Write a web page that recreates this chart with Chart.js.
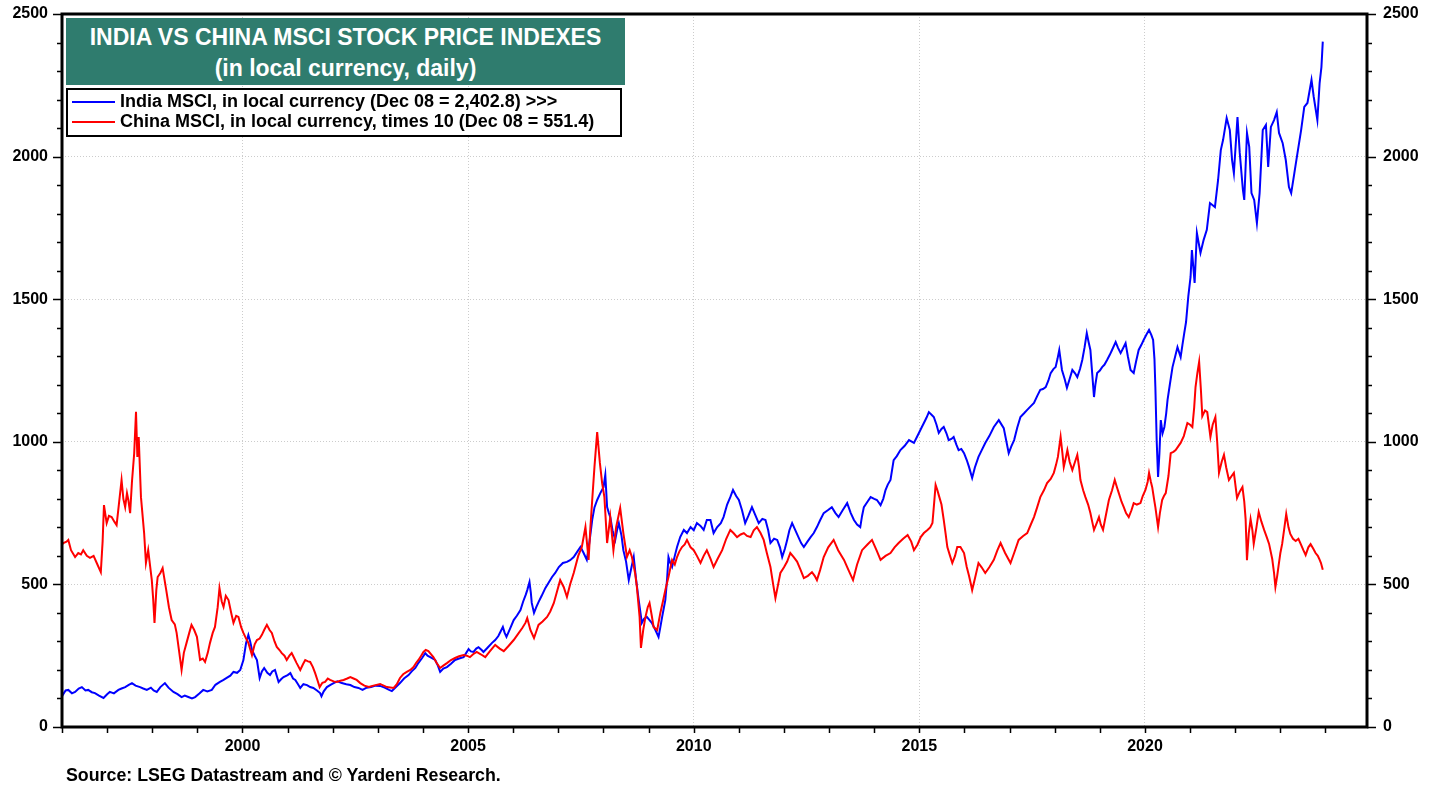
<!DOCTYPE html>
<html>
<head>
<meta charset="utf-8">
<script src="https://cdn.jsdelivr.net/npm/chart.js@4/dist/chart.umd.min.js"></script>
<style>
  body { margin: 0; background: #fff; font-family: Arial, "Liberation Sans", sans-serif; }
  #wrap { position: relative; width: 1446px; height: 790px; overflow: hidden; }
  #c { position: absolute; left: 0; top: 0; }
  .titlebox { position: absolute; left: 66px; top: 18px; width: 559px; height: 67px; background: #2f7c6e; color: #fff; font-weight: bold; font-size: 23px; text-align: center; }
  .titlebox div { position: absolute; left: 0; right: 0; }
  .legend { position: absolute; left: 66px; top: 88px; width: 552px; height: 45px; border: 2px solid #000; background: #fff; font-weight: bold; font-size: 18px; }
  .legend .row { position: absolute; left: 4px; height: 20px; line-height: 20px; white-space: nowrap; }
  .legend .swatch { display: inline-block; width: 43px; height: 2px; vertical-align: middle; margin-right: 5px; }
  .source { position: absolute; left: 66px; top: 765px; font-weight: bold; font-size: 17.8px; white-space: nowrap; }
</style>
</head>
<body>
<div id="wrap">
  <canvas id="c" width="1446" height="790"></canvas>
  <div class="titlebox">
    <div style="top:6px">INDIA VS CHINA MSCI STOCK PRICE INDEXES</div>
    <div style="top:37px">(in local currency, daily)</div>
  </div>
  <div class="legend">
    <div class="row" style="top:1px"><span class="swatch" style="background:#0000ff"></span>India MSCI, in local currency (Dec 08 = 2,402.8) &gt;&gt;&gt;</div>
    <div class="row" style="top:21px"><span class="swatch" style="background:#ff0000"></span>China MSCI, in local currency, times 10 (Dec 08 = 551.4)</div>
  </div>
  <div class="source">Source: LSEG Datastream and © Yardeni Research.</div>
</div>
<script>
// India MSCI (local currency)
const indiaDates = [
  1996.00,1996.08,1996.14,1996.22,1996.29,1996.37,1996.44,1996.52,1996.58,1996.66,
  1996.73,1996.82,1996.92,1997.00,1997.06,1997.15,1997.25,1997.32,1997.40,1997.48,
  1997.55,1997.63,1997.73,1997.80,1997.88,1997.97,1998.03,1998.10,1998.18,1998.28,
  1998.36,1998.47,1998.56,1998.65,1998.72,1998.80,1998.88,1998.95,1999.05,1999.13,
  1999.22,1999.32,1999.40,1999.50,1999.58,1999.65,1999.73,1999.80,1999.88,1999.95,
  2000.02,2000.08,2000.13,2000.17,2000.21,2000.27,2000.32,2000.38,2000.43,2000.48,
  2000.55,2000.61,2000.66,2000.72,2000.80,2000.86,2000.91,2001.00,2001.06,2001.12,
  2001.17,2001.23,2001.28,2001.35,2001.43,2001.50,2001.57,2001.65,2001.72,2001.75,
  2001.80,2001.87,2001.95,2002.02,2002.10,2002.20,2002.30,2002.39,2002.48,2002.57,
  2002.66,2002.75,2002.85,2002.95,2003.05,2003.15,2003.25,2003.31,2003.40,2003.49,
  2003.58,2003.68,2003.75,2003.83,2003.90,2003.98,2004.05,2004.10,2004.16,2004.22,
  2004.27,2004.33,2004.38,2004.45,2004.53,2004.62,2004.71,2004.80,2004.90,2005.01,
  2005.06,2005.12,2005.18,2005.23,2005.30,2005.34,2005.43,2005.53,2005.60,2005.67,
  2005.72,2005.77,2005.81,2005.85,2005.93,2006.01,2006.08,2006.16,2006.22,2006.28,
  2006.31,2006.36,2006.39,2006.41,2006.46,2006.51,2006.56,2006.63,2006.71,2006.78,
  2006.86,2006.93,2007.01,2007.10,2007.19,2007.26,2007.34,2007.42,2007.49,2007.56,
  2007.63,2007.69,2007.75,2007.80,2007.86,2007.93,2008.00,2008.04,2008.08,2008.12,
  2008.15,2008.20,2008.26,2008.30,2008.34,2008.40,2008.44,2008.50,2008.56,2008.62,
  2008.67,2008.72,2008.78,2008.82,2008.85,2008.90,2008.96,2009.02,2009.07,2009.15,
  2009.22,2009.26,2009.30,2009.34,2009.37,2009.41,2009.44,2009.48,2009.52,2009.58,
  2009.63,2009.70,2009.78,2009.85,2009.93,2010.00,2010.07,2010.15,2010.22,2010.29,
  2010.37,2010.44,2010.52,2010.60,2010.66,2010.74,2010.81,2010.87,2010.94,2011.00,
  2011.07,2011.14,2011.21,2011.29,2011.36,2011.44,2011.52,2011.59,2011.65,2011.70,
  2011.78,2011.85,2011.91,2011.96,2012.02,2012.07,2012.12,2012.18,2012.25,2012.32,
  2012.38,2012.44,2012.52,2012.59,2012.66,2012.73,2012.80,2012.88,2012.97,2013.06,
  2013.14,2013.21,2013.30,2013.40,2013.48,2013.55,2013.62,2013.69,2013.73,2013.77,
  2013.85,2013.92,2014.00,2014.06,2014.14,2014.20,2014.25,2014.30,2014.36,2014.43,
  2014.50,2014.58,2014.67,2014.77,2014.88,2014.94,2014.99,2015.05,2015.10,2015.16,
  2015.21,2015.27,2015.32,2015.38,2015.43,2015.49,2015.54,2015.60,2015.65,2015.71,
  2015.76,2015.82,2015.87,2015.93,2015.99,2016.05,2016.10,2016.17,2016.23,2016.31,
  2016.38,2016.46,2016.55,2016.65,2016.76,2016.87,2016.93,2016.98,2017.04,2017.10,
  2017.17,2017.24,2017.32,2017.39,2017.47,2017.54,2017.61,2017.68,2017.74,2017.80,
  2017.86,2017.91,2017.97,2018.02,2018.06,2018.10,2018.16,2018.22,2018.27,2018.33,
  2018.39,2018.45,2018.50,2018.56,2018.61,2018.66,2018.71,2018.75,2018.79,2018.83,
  2018.87,2018.90,2018.94,2019.00,2019.05,2019.10,2019.16,2019.22,2019.27,2019.35,
  2019.40,2019.46,2019.52,2019.57,2019.62,2019.68,2019.75,2019.80,2019.86,2019.92,
  2019.97,2020.03,2020.09,2020.14,2020.18,2020.21,2020.23,2020.26,2020.29,2020.32,
  2020.35,2020.39,2020.43,2020.47,2020.50,2020.55,2020.61,2020.67,2020.72,2020.79,
  2020.83,2020.87,2020.91,2020.96,2021.01,2021.04,2021.10,2021.15,2021.23,2021.30,
  2021.37,2021.44,2021.55,2021.62,2021.68,2021.73,2021.81,2021.88,2021.93,2021.97,
  2022.05,2022.10,2022.17,2022.20,2022.26,2022.31,2022.36,2022.42,2022.48,2022.54,
  2022.61,2022.68,2022.73,2022.79,2022.86,2022.92,2022.97,2023.05,2023.12,2023.19,
  2023.24,2023.31,2023.38,2023.46,2023.53,2023.60,2023.69,2023.74,2023.82,2023.87,
  2023.91,2023.94
];
const indiaValues = [
  108,128,130,118,123,135,140,128,130,122,
  119,110,102,115,123,118,130,135,140,148,
  154,145,140,135,130,138,128,123,140,154,
  138,123,115,105,110,105,100,105,118,130,
  125,130,148,158,165,172,180,193,190,200,
  235,295,323,300,270,250,235,172,195,207,
  190,182,195,200,158,168,175,182,189,170,
  165,150,137,150,147,140,137,128,119,108,
  125,140,148,154,160,154,150,147,140,137,
  130,138,140,145,144,138,130,126,140,154,
  170,182,195,207,225,242,259,250,245,240,
  235,215,193,205,210,222,235,240,245,273,
  265,263,275,280,270,263,278,295,305,319,
  335,351,330,316,345,375,390,410,440,465,
  480,508,470,435,400,420,438,460,487,505,
  526,540,561,575,579,585,596,615,631,610,
  586,650,726,770,796,820,841,884,771,750,
  736,690,656,690,715,670,620,580,515,560,
  596,520,445,400,365,380,386,375,365,340,
  316,350,386,420,445,520,596,575,561,600,
  631,666,691,680,701,690,715,705,691,726,
  726,680,701,715,736,780,806,831,810,796,
  760,715,740,771,745,715,730,726,690,645,
  660,656,630,596,625,656,690,715,690,666,
  645,631,650,666,680,701,725,750,760,771,
  750,736,760,785,750,726,710,701,740,771,
  790,806,800,796,778,800,831,850,866,936,
  950,971,985,1006,996,1015,1031,1050,1066,1085,
  1104,1095,1087,1060,1031,1045,1052,1030,1006,1010,
  1017,990,971,975,960,936,912,873,910,947,
  970,996,1020,1052,1076,1048,1000,960,985,1006,
  1050,1087,1100,1112,1125,1136,1160,1182,1185,1192,
  1215,1241,1255,1262,1290,1322,1252,1220,1189,1220,
  1252,1240,1227,1255,1287,1330,1381,1350,1322,1240,
  1157,1200,1241,1250,1262,1270,1287,1305,1322,1350,
  1330,1311,1330,1346,1300,1252,1241,1280,1322,1340,
  1357,1375,1392,1375,1357,1290,1192,1000,877,960,
  1076,1030,1052,1100,1147,1200,1262,1300,1332,1297,
  1340,1381,1420,1510,1578,1672,1557,1732,1662,1708,
  1743,1837,1823,1918,2023,2058,2135,2093,1988,1942,
  2139,2013,1883,1848,2083,2034,1872,1848,1767,1872,
  2093,2111,1964,2104,2128,2156,2083,2048,1988,1893,
  1872,1942,2013,2093,2174,2188,2269,2209,2128,2258,
  2314,2403
];

// China MSCI (local currency) times 10
const chinaDates = [
  1996.00,1996.03,1996.10,1996.14,1996.20,1996.29,1996.36,1996.42,1996.47,1996.55,
  1996.62,1996.70,1996.77,1996.86,1996.90,1996.93,1996.99,1997.04,1997.10,1997.16,
  1997.21,1997.26,1997.32,1997.36,1997.40,1997.44,1997.47,1997.51,1997.55,1997.60,
  1997.64,1997.67,1997.70,1997.75,1997.82,1997.86,1997.91,1997.99,1998.02,1998.05,
  1998.09,1998.12,1998.18,1998.23,1998.31,1998.37,1998.43,1998.50,1998.54,1998.60,
  1998.65,1998.70,1998.76,1998.82,1998.87,1998.93,1998.99,1999.06,1999.12,1999.17,
  1999.23,1999.28,1999.34,1999.39,1999.45,1999.49,1999.54,1999.58,1999.63,1999.69,
  1999.75,1999.80,1999.86,1999.91,1999.97,2000.02,2000.08,2000.13,2000.21,2000.27,
  2000.32,2000.38,2000.43,2000.48,2000.54,2000.60,2000.65,2000.71,2000.76,2000.82,
  2000.87,2000.93,2000.98,2001.04,2001.09,2001.15,2001.20,2001.28,2001.34,2001.39,
  2001.45,2001.50,2001.56,2001.61,2001.66,2001.71,2001.77,2001.83,2001.89,2001.94,
  2002.02,2002.09,2002.17,2002.24,2002.32,2002.39,2002.46,2002.53,2002.61,2002.70,
  2002.80,2002.90,2003.05,2003.20,2003.35,2003.42,2003.49,2003.56,2003.64,2003.72,
  2003.79,2003.85,2003.90,2003.96,2004.01,2004.06,2004.12,2004.18,2004.23,2004.30,
  2004.38,2004.45,2004.53,2004.62,2004.71,2004.80,2004.90,2004.97,2005.04,2005.11,
  2005.19,2005.28,2005.38,2005.48,2005.60,2005.70,2005.79,2005.90,2006.01,2006.10,
  2006.20,2006.27,2006.31,2006.38,2006.46,2006.51,2006.56,2006.65,2006.75,2006.82,
  2006.90,2006.97,2007.04,2007.12,2007.19,2007.26,2007.34,2007.44,2007.52,2007.60,
  2007.67,2007.71,2007.75,2007.80,2007.86,2007.92,2007.97,2008.02,2008.08,2008.15,
  2008.22,2008.28,2008.37,2008.44,2008.52,2008.58,2008.63,2008.70,2008.74,2008.80,
  2008.83,2008.88,2008.93,2008.98,2009.02,2009.07,2009.11,2009.19,2009.26,2009.33,
  2009.37,2009.44,2009.52,2009.58,2009.63,2009.68,2009.74,2009.80,2009.85,2009.93,
  2010.00,2010.07,2010.15,2010.22,2010.29,2010.37,2010.44,2010.53,2010.63,2010.72,
  2010.81,2010.88,2010.96,2011.04,2011.11,2011.18,2011.26,2011.33,2011.40,2011.48,
  2011.55,2011.62,2011.70,2011.76,2011.81,2011.87,2011.92,2012.00,2012.07,2012.14,
  2012.22,2012.29,2012.37,2012.44,2012.53,2012.62,2012.68,2012.73,2012.80,2012.88,
  2012.98,2013.10,2013.20,2013.33,2013.43,2013.53,2013.62,2013.73,2013.85,2013.95,
  2014.05,2014.14,2014.25,2014.36,2014.45,2014.54,2014.64,2014.74,2014.82,2014.88,
  2014.96,2015.03,2015.10,2015.18,2015.24,2015.29,2015.33,2015.36,2015.40,2015.43,
  2015.49,2015.54,2015.58,2015.62,2015.68,2015.73,2015.79,2015.84,2015.91,2015.99,
  2016.05,2016.10,2016.15,2016.17,2016.23,2016.31,2016.38,2016.46,2016.55,2016.65,
  2016.73,2016.80,2016.90,2017.02,2017.10,2017.20,2017.30,2017.39,2017.47,2017.54,
  2017.61,2017.68,2017.76,2017.83,2017.91,2017.98,2018.03,2018.07,2018.13,2018.17,
  2018.20,2018.24,2018.28,2018.33,2018.39,2018.45,2018.50,2018.54,2018.57,2018.63,
  2018.68,2018.74,2018.79,2018.83,2018.87,2018.93,2018.98,2019.02,2019.07,2019.13,
  2019.20,2019.27,2019.33,2019.38,2019.42,2019.48,2019.53,2019.58,2019.64,2019.70,
  2019.75,2019.82,2019.90,2019.95,2020.01,2020.06,2020.09,2020.13,2020.16,2020.20,
  2020.23,2020.29,2020.33,2020.38,2020.42,2020.46,2020.52,2020.57,2020.63,2020.68,
  2020.74,2020.79,2020.86,2020.94,2021.00,2021.05,2021.09,2021.12,2021.16,2021.20,
  2021.24,2021.27,2021.33,2021.38,2021.45,2021.50,2021.56,2021.60,2021.64,2021.70,
  2021.75,2021.80,2021.86,2021.92,2021.97,2022.04,2022.10,2022.16,2022.20,2022.23,
  2022.26,2022.30,2022.34,2022.38,2022.41,2022.47,2022.52,2022.58,2022.64,2022.70,
  2022.75,2022.82,2022.86,2022.89,2022.93,2022.96,2023.00,2023.04,2023.09,2023.13,
  2023.18,2023.22,2023.28,2023.34,2023.40,2023.45,2023.51,2023.56,2023.62,2023.67,
  2023.73,2023.78,2023.83,2023.86,2023.90,2023.94
];
const chinaValues = [
  640,645,650,656,620,596,610,605,620,600,
  593,600,575,543,650,778,715,740,736,720,
  708,780,866,800,771,820,796,750,859,960,
  1105,947,1017,806,680,575,620,515,450,365,
  480,526,540,557,480,420,375,360,330,260,
  200,260,295,330,358,340,316,235,240,228,
  260,295,330,351,420,487,440,421,460,445,
  400,365,390,386,350,330,310,295,252,290,
  305,310,323,340,358,340,330,300,281,270,
  259,250,235,250,259,240,224,200,220,235,
  230,228,210,189,165,140,155,158,170,165,
  160,158,162,165,170,175,170,165,154,145,
  140,145,151,140,137,150,172,185,193,200,
  210,225,235,250,263,270,266,255,245,225,
  207,215,224,235,242,248,252,250,245,255,
  263,255,245,265,288,275,266,285,305,325,
  347,365,382,340,312,335,358,370,386,405,
  435,475,515,490,456,500,540,600,631,701,
  586,700,796,912,1034,926,855,806,645,736,
  620,701,768,680,596,620,596,540,491,386,
  277,340,386,420,435,390,351,340,400,450,
  480,526,586,570,596,615,631,640,656,630,
  620,600,575,600,620,590,561,590,620,660,
  691,680,666,675,680,670,666,690,701,680,
  656,610,561,500,452,500,540,560,580,610,
  595,580,550,522,530,543,530,515,550,596,
  630,656,620,586,550,515,570,620,640,656,
  620,586,600,610,630,645,660,673,650,620,
  640,666,680,691,700,715,790,849,830,813,
  780,726,680,631,600,575,600,631,631,610,
  561,530,495,480,520,575,560,540,560,586,
  620,645,610,575,610,656,670,680,710,736,
  770,806,830,855,870,891,920,947,1017,960,
  912,940,971,930,901,930,954,910,866,830,
  806,780,750,720,691,715,736,710,691,740,
  796,830,866,840,820,790,771,750,736,760,
  785,780,785,810,831,860,891,860,841,800,
  771,701,750,796,810,820,880,960,965,971,
  985,996,1020,1066,1060,1052,1120,1192,1240,1280,
  1180,1090,1110,1104,1017,1060,1087,1000,891,930,
  954,910,866,880,891,803,825,841,790,729,
  585,680,729,690,642,700,754,720,691,665,
  642,589,540,491,530,565,610,642,700,747,
  700,677,660,652,660,642,620,603,630,641,
  625,610,600,590,575,551
];

// axis settings
const xMin = 1996.0;
const xMax = 2024.92;
const xLabels = [2000, 2005, 2010, 2015, 2020];
const yMin = 0;
const yMax = 2500;
const yLabels = [0, 500, 1000, 1500, 2000, 2500];

const toPoints = (xs, ys) => xs.map((x, i) => ({ x: x, y: ys[i] }));
const isLabel = (list, v) => list.some(l => Math.abs(l - v) < 1e-6);

const tickFont = { family: 'Arial, "Liberation Sans", sans-serif', size: 16, weight: 'bold' };
const gridColor = '#cccccc';

// frame + tick marks drawn around the plot area
const framePlugin = {
  id: 'framePlugin',
  afterDraw(chart) {
    const { ctx, chartArea: a, scales } = chart;
    ctx.save();
    ctx.strokeStyle = '#000';
    ctx.lineWidth = 1.5;
    ctx.beginPath();
    for (let v = yMin; v <= yMax; v += 100) {
      const y = Math.round(scales.y.getPixelForValue(v)) + 0.5;
      const len = isLabel(yLabels, v) ? 9 : 5;
      ctx.moveTo(a.left - len, y); ctx.lineTo(a.left, y);
      ctx.moveTo(a.right, y); ctx.lineTo(a.right + len, y);
    }
    for (let yr = Math.ceil(xMin); yr <= xMax; yr++) {
      const x = Math.round(scales.x.getPixelForValue(yr)) + 0.5;
      ctx.moveTo(x, a.bottom); ctx.lineTo(x, a.bottom + 6);
    }
    ctx.stroke();
    ctx.lineWidth = 3;
    ctx.strokeRect(a.left, a.top, a.right - a.left, a.bottom - a.top);
    ctx.restore();
  }
};

// y axes: fixed width, no extra room reserved for the end labels
const fitY = w => s => { s.width = w; s.paddingTop = 0; s.paddingBottom = 0; };

const ctx = document.getElementById('c').getContext('2d');
new Chart(ctx, {
  type: 'line',
  data: {
    datasets: [
      {
        label: 'China MSCI, in local currency, times 10',
        data: toPoints(chinaDates, chinaValues),
        borderColor: '#ff0000',
        borderWidth: 2,
        pointRadius: 0,
        tension: 0,
        order: 0
      },
      {
        label: 'India MSCI, in local currency',
        data: toPoints(indiaDates, indiaValues),
        borderColor: '#0000ff',
        borderWidth: 2,
        pointRadius: 0,
        tension: 0,
        order: 1
      }
    ]
  },
  options: {
    responsive: false,
    animation: false,
    devicePixelRatio: 1,
    layout: { padding: { top: 14, left: 0, right: 0, bottom: 0 } },
    plugins: { legend: { display: false }, tooltip: { enabled: false } },
    scales: {
      x: {
        type: 'linear',
        min: xMin,
        max: xMax,
        afterFit: s => { s.height = 63; s.paddingLeft = 0; s.paddingRight = 0; },
        ticks: {
          stepSize: 1,
          autoSkip: false,
          maxRotation: 0,
          includeBounds: false,
          padding: 10,
          color: '#000',
          font: tickFont,
          callback: v => isLabel(xLabels, v) ? String(v) : ''
        },
        grid: {
          drawTicks: false,
          lineWidth: 1,
          color: c => (c.tick && isLabel(xLabels, c.tick.value)) ? gridColor : 'rgba(0,0,0,0)'
        },
        border: { display: false, dash: [1, 2] }
      },
      y: {
        position: 'left',
        min: yMin,
        max: yMax,
        afterFit: fitY(62),
        ticks: {
          stepSize: 100,
          autoSkip: false,
          padding: 14,
          color: '#000',
          font: tickFont,
          callback: v => isLabel(yLabels, v) ? String(v) : ''
        },
        grid: {
          drawTicks: false,
          lineWidth: 1,
          color: c => (c.tick && isLabel(yLabels, c.tick.value) && c.tick.value > yMin && c.tick.value < yMax) ? gridColor : 'rgba(0,0,0,0)'
        },
        border: { display: false, dash: [1, 2] }
      },
      y2: {
        position: 'right',
        min: yMin,
        max: yMax,
        afterFit: fitY(79),
        ticks: {
          stepSize: 100,
          autoSkip: false,
          padding: 16,
          color: '#000',
          font: tickFont,
          callback: v => isLabel(yLabels, v) ? String(v) : ''
        },
        grid: { drawTicks: false, drawOnChartArea: false },
        border: { display: false }
      }
    }
  },
  plugins: [framePlugin]
});
</script>
</body>
</html>
